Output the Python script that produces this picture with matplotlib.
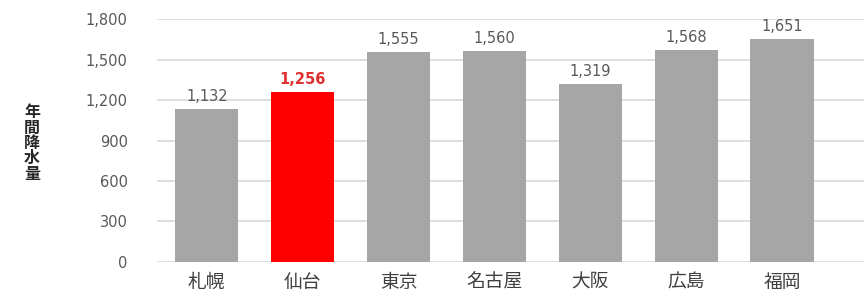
import matplotlib
matplotlib.use("Agg")
import matplotlib.pyplot as plt

plt.rcParams["font.family"] = ["Noto Sans CJK JP", "DejaVu Sans"]

cities = ["札幌", "仙台", "東京", "名古屋", "大阪", "広島", "福岡"]
rainfall = [1132, 1256, 1555, 1560, 1319, 1568, 1651]
highlight = "仙台"
yticks = [0, 300, 600, 900, 1200, 1500, 1800]

fig = plt.figure(figsize=(8.67, 2.98), dpi=100)
ax = fig.add_axes([0.181, 0.121, 0.815, 0.815])

x = list(range(len(cities)))
colors = ["#ff0000" if c == highlight else "#a6a6a6" for c in cities]
ax.bar(x, rainfall, width=0.66, color=colors, zorder=2)

for xi, v, c in zip(x, rainfall, cities):
    if c == highlight:
        ax.text(xi, v + 40, f"{v:,}", ha="center", va="bottom", fontsize=10.5,
                color="#e03030", fontweight="bold", family="DejaVu Sans")
    else:
        ax.text(xi, v + 40, f"{v:,}", ha="center", va="bottom", fontsize=10.5,
                color="#595959", family="DejaVu Sans")

ax.set_ylim(0, 1800)
ax.set_xlim(-0.52, 6.85)
ax.set_yticks(yticks)
ax.set_yticklabels([f"{t:,}" for t in yticks], fontsize=10.5, color="#595959",
                   family="DejaVu Sans")
ax.set_xticks(x)
ax.set_xticklabels(cities, fontsize=13.5, color="#404040")
ax.tick_params(axis="both", length=0)
ax.tick_params(axis="y", pad=21)
ax.tick_params(axis="x", pad=7)
ax.grid(axis="y", color="#d9d9d9", lw=1.2, zorder=0)
for s in ax.spines.values():
    s.set_visible(False)

fig.text(0.037, 0.52, "年\n間\n降\n水\n量", ha="center", va="center",
         fontsize=11.5, fontweight="bold", color="#262626", linespacing=0.95)

fig.savefig("out.png", dpi=100)
